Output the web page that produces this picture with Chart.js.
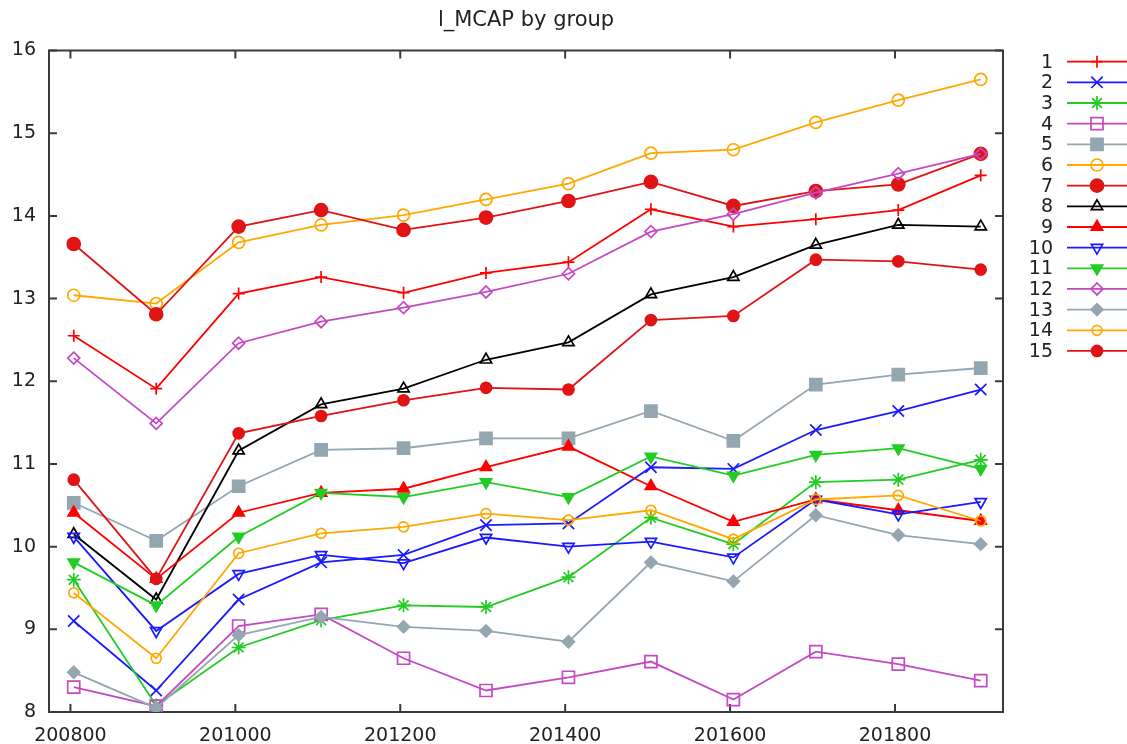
<!DOCTYPE html>
<html lang="en">
<head>
    <meta charset="UTF-8">
    <title>l_MCAP by group</title>
    <script src="https://cdn.jsdelivr.net/npm/chart.js"></script>
    <style>
        html, body { margin: 0; padding: 0; background: #fff; }
        #wrap { width: 1127px; height: 744px; position: relative; }
    </style>
</head>
<body>
    <div id="wrap"><canvas id="mcapChart"></canvas></div>

    <script>
        // periods (YYYYMM-ish values on the x axis)
        const periods = [200804, 200904, 201004, 201104, 201204, 201304, 201404, 201504, 201604, 201704, 201804, 201904];
        const xTicks = [200800, 201000, 201200, 201400, 201600, 201800];
        const yTicks = [8, 9, 10, 11, 12, 13, 14, 15, 16];

        const g1  = [12.55, 11.91, 13.06, 13.26, 13.07, 13.31, 13.44, 14.08, 13.87, 13.96, 14.07, 14.49];
        const g2  = [9.10, 8.26, 9.36, 9.81, 9.90, 10.26, 10.28, 10.96, 10.94, 11.41, 11.64, 11.90];
        const g3  = [9.60, 8.08, 8.78, 9.11, 9.29, 9.27, 9.63, 10.35, 10.03, 10.78, 10.81, 11.05];
        const g4  = [8.30, 8.07, 9.04, 9.18, 8.65, 8.26, 8.42, 8.61, 8.15, 8.73, 8.58, 8.38];
        const g5  = [10.53, 10.07, 10.73, 11.17, 11.19, 11.31, 11.31, 11.64, 11.28, 11.96, 12.08, 12.16];
        const g6  = [13.04, 12.94, 13.68, 13.89, 14.01, 14.20, 14.39, 14.76, 14.80, 15.13, 15.40, 15.65];
        const g7  = [13.66, 12.81, 13.87, 14.07, 13.83, 13.98, 14.18, 14.41, 14.12, 14.30, 14.38, 14.75];
        const g8  = [10.15, 9.36, 11.16, 11.72, 11.91, 12.26, 12.47, 13.05, 13.26, 13.65, 13.89, 13.87];
        const g9  = [10.41, 9.61, 10.41, 10.65, 10.70, 10.96, 11.21, 10.73, 10.30, 10.57, 10.44, 10.31];
        const g10 = [10.12, 8.98, 9.67, 9.90, 9.80, 10.11, 10.00, 10.06, 9.87, 10.57, 10.39, 10.54];
        const g11 = [9.81, 9.29, 10.12, 10.65, 10.60, 10.78, 10.60, 11.09, 10.86, 11.11, 11.19, 10.94];
        const g12 = [12.28, 11.49, 12.46, 12.72, 12.89, 13.08, 13.30, 13.81, 14.02, 14.28, 14.51, 14.75];
        const g13 = [8.48, 8.05, 8.93, 9.15, 9.03, 8.98, 8.85, 9.81, 9.58, 10.38, 10.14, 10.03];
        const g14 = [9.44, 8.65, 9.92, 10.16, 10.24, 10.40, 10.32, 10.44, 10.09, 10.57, 10.62, 10.31];
        const g15 = [10.81, 9.61, 11.37, 11.58, 11.77, 11.92, 11.90, 12.74, 12.79, 13.47, 13.45, 13.35];

        const groupNames = ['1', '2', '3', '4', '5', '6', '7', '8', '9', '10', '11', '12', '13', '14', '15'];
        const groupValues = [g1, g2, g3, g4, g5, g6, g7, g8, g9, g10, g11, g12, g13, g14, g15];

        const red = '#ff0000', blue = '#1a1aff', green = '#22cc22', magenta = '#c449c4',
              slate = '#94a6b0', orange = '#ffa800', darkred = '#e01414', black = '#000000';
        const none = 'rgba(0,0,0,0)';

        // marker look per group: [color, pointStyle, radius, filled, rotation]
        const markers = [
            [red, 'cross', 6, false, 0],
            [blue, 'crossRot', 8, false, 0],
            [green, 'star', 7, false, 0],
            [magenta, 'rect', 8.5, false, 0],
            [slate, 'rect', 8.5, true, 0],
            [orange, 'circle', 6, false, 0],
            [darkred, 'circle', 6.5, true, 0],
            [black, 'triangle', 6.5, false, 0],
            [red, 'triangle', 6.5, true, 0],
            [blue, 'triangle', 6.5, false, 180],
            [green, 'triangle', 6.5, true, 180],
            [magenta, 'rectRot', 6, false, 0],
            [slate, 'rectRot', 6, true, 0],
            [orange, 'circle', 5, false, 0],
            [darkred, 'circle', 5.5, true, 0]
        ];

        const datasets = groupValues.map((vals, i) => {
            const m = markers[i];
            return {
                label: groupNames[i],
                data: periods.map((p, k) => ({ x: p, y: vals[k] })),
                borderColor: m[0],
                borderWidth: 1.8,
                pointStyle: m[1],
                pointRadius: m[2],
                pointBorderWidth: 1.7,
                pointBorderColor: m[0],
                pointBackgroundColor: m[3] ? m[0] : none,
                pointRotation: m[4],
                tension: 0,
                order: groupNames.length - i
            };
        });

        // gnuplot-like frame with inward ticks on all four sides
        const framePlugin = {
            id: 'frame',
            beforeDatasetsDraw(chart) {
                const { ctx, chartArea: a, scales } = chart;
                const tl = 8;
                ctx.save();
                ctx.strokeStyle = '#3a3a3a';
                ctx.lineWidth = 2;
                ctx.strokeRect(a.left, a.top, a.right - a.left, a.bottom - a.top);
                ctx.beginPath();
                xTicks.forEach(v => {
                    const x = scales.x.getPixelForValue(v);
                    ctx.moveTo(x, a.bottom); ctx.lineTo(x, a.bottom - tl);
                    ctx.moveTo(x, a.top); ctx.lineTo(x, a.top + tl);
                });
                yTicks.forEach(v => {
                    const y = scales.y.getPixelForValue(v);
                    ctx.moveTo(a.left, y); ctx.lineTo(a.left + tl, y);
                    ctx.moveTo(a.right, y); ctx.lineTo(a.right - tl, y);
                });
                ctx.stroke();
                ctx.restore();
            }
        };

        // key on the right, one row per group
        const keyPlugin = {
            id: 'key',
            afterDraw(chart) {
                const ctx = chart.ctx;
                const top = 61.7, step = 20.66;
                ctx.save();
                ctx.font = '19px "DejaVu Sans"';
                ctx.textAlign = 'right';
                ctx.textBaseline = 'middle';
                chart.data.datasets.forEach((ds, i) => {
                    const y = top + i * step;
                    ctx.fillStyle = '#222';
                    ctx.fillText(ds.label, 1053, y + 1);
                    ctx.strokeStyle = ds.borderColor;
                    ctx.lineWidth = 1.8;
                    ctx.beginPath();
                    ctx.moveTo(1067, y);
                    ctx.lineTo(1127, y);
                    ctx.stroke();
                    ctx.fillStyle = ds.pointBackgroundColor;
                    ctx.strokeStyle = ds.pointBorderColor;
                    ctx.lineWidth = ds.pointBorderWidth;
                    Chart.helpers.drawPoint(ctx, {
                        pointStyle: ds.pointStyle,
                        radius: ds.pointRadius,
                        rotation: ds.pointRotation,
                        borderWidth: ds.pointBorderWidth
                    }, 1097, y);
                });
                ctx.restore();
            }
        };

        Chart.defaults.font.family = '"DejaVu Sans", Verdana, sans-serif';
        Chart.defaults.font.size = 19;
        Chart.defaults.color = '#222';

        const ctx = document.getElementById('mcapChart').getContext('2d');
        const mcapChart = new Chart(ctx, {
            type: 'line',
            data: { datasets: datasets },
            options: {
                responsive: true,
                maintainAspectRatio: false,
                animation: false,
                events: [],
                layout: { padding: { left: 0, right: 124, top: 0, bottom: 0 } },
                plugins: {
                    legend: { display: false },
                    tooltip: { enabled: false },
                    title: {
                        display: true,
                        text: 'l_MCAP by group',
                        fullSize: false,
                        color: '#222',
                        font: { size: 21, weight: 'normal' },
                        padding: { top: 7.5, bottom: 17.8 }
                    }
                },
                scales: {
                    x: {
                        type: 'linear',
                        min: 200774,
                        max: 201931,
                        afterFit: s => { s.height = 32; },
                        grid: { display: false, drawTicks: false },
                        border: { display: false },
                        ticks: {
                            stepSize: 200,
                            includeBounds: false,
                            padding: 13,
                            maxRotation: 0,
                            autoSkip: false,
                            callback: v => String(v)
                        }
                    },
                    y: {
                        min: 8,
                        max: 16,
                        afterFit: s => { s.width = 49; },
                        grid: { display: false, drawTicks: false },
                        border: { display: false },
                        ticks: { stepSize: 1, padding: 13 }
                    }
                }
            },
            plugins: [framePlugin, keyPlugin]
        });
    </script>
</body>
</html>
